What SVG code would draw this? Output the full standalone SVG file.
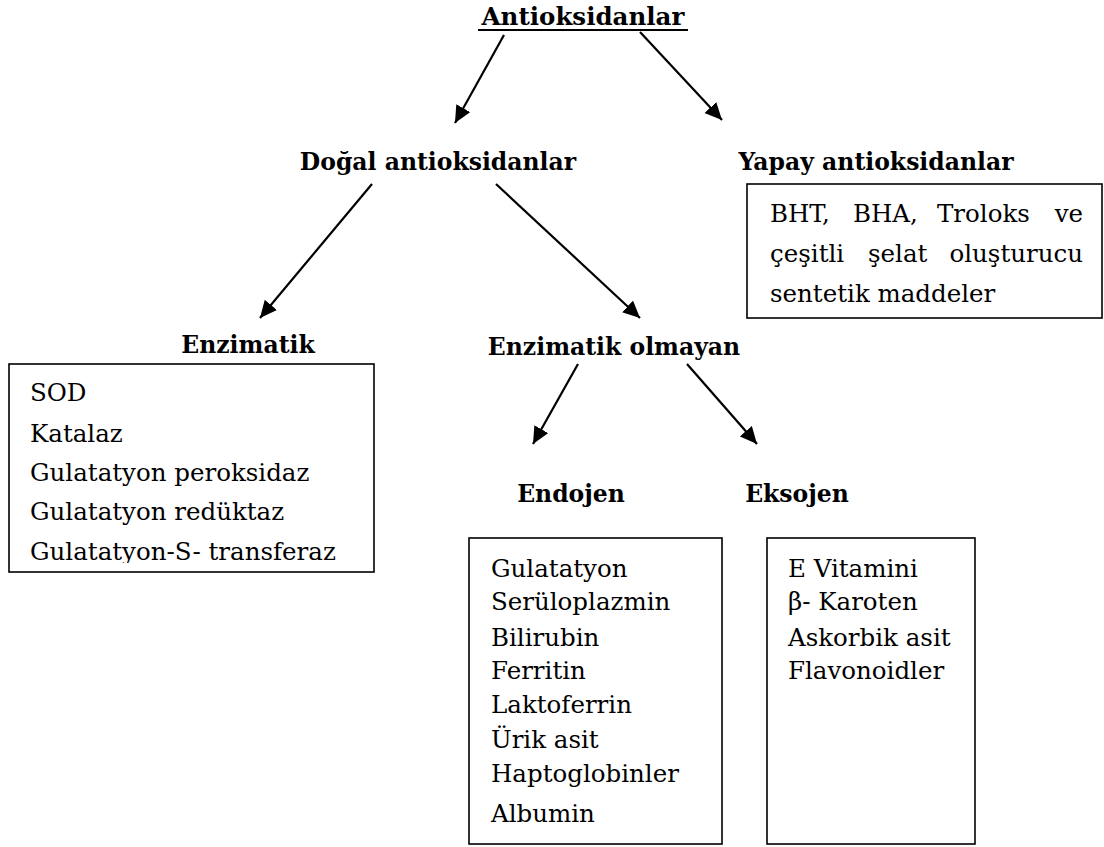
<svg xmlns="http://www.w3.org/2000/svg" width="1104" height="847" viewBox="0 0 1104 847">
<style>
  .h { font-family: "DejaVu Serif", "Liberation Serif", serif; font-weight: bold; font-size: 23.5px; fill: #000; }
  .t { font-family: "DejaVu Serif", "Liberation Serif", serif; font-size: 24.5px; fill: #000; }
  .box { fill: #fff; stroke: #000; stroke-width: 1.6; }
  .arr { stroke: #000; stroke-width: 2.2; fill: none; marker-end: url(#ah); }
</style>
<defs>
  <marker id="ah" markerUnits="userSpaceOnUse" markerWidth="18" markerHeight="16" refX="17" refY="8" orient="auto">
    <path d="M0,0 L17,8 L0,16 z" fill="#000"/>
  </marker>
  <clipPath id="clipEnz">
    <rect x="9" y="364" width="366" height="199"/>
  </clipPath>
</defs>
<rect width="1104" height="847" fill="#fff"/>

<g id="connectors">
  <line class="arr" x1="504" y1="35" x2="455" y2="123"/>
  <line class="arr" x1="640" y1="32" x2="722" y2="120"/>
  <line class="arr" x1="372" y1="184" x2="260" y2="318"/>
  <line class="arr" x1="496" y1="184" x2="640" y2="318"/>
  <line class="arr" x1="578" y1="364" x2="533" y2="444"/>
  <line class="arr" x1="687" y1="364" x2="757" y2="444"/>
</g>

<g id="antioksidanlar">
  <text class="h" x="583" y="25" text-anchor="middle" style="font-size:24.5px">Antioksidanlar</text>
  <line x1="478" y1="30" x2="688" y2="30" stroke="#000" stroke-width="2"/>
</g>

<g id="dogal">
  <text class="h" x="438" y="170" text-anchor="middle">Doğal antioksidanlar</text>
</g>

<g id="yapay">
  <text class="h" x="876" y="170" text-anchor="middle">Yapay antioksidanlar</text>
  <rect class="box" x="747" y="184" width="355" height="134"/>
  <text class="t" y="222"><tspan x="770">BHT,</tspan><tspan x="853">BHA,</tspan><tspan x="937">Troloks</tspan></text>
  <text class="t" x="1083" y="222" text-anchor="end">ve</text>
  <text class="t" y="262"><tspan x="770">çeşitli</tspan><tspan x="868">şelat</tspan></text>
  <text class="t" x="1083" y="262" text-anchor="end">oluşturucu</text>
  <text class="t" x="770" y="302">sentetik maddeler</text>
</g>

<g id="enzimatik">
  <text class="h" x="248" y="353" text-anchor="middle">Enzimatik</text>
  <rect class="box" x="9" y="364" width="365" height="208"/>
  <g clip-path="url(#clipEnz)">
    <text class="t" x="30" y="401">SOD</text>
    <text class="t" x="30" y="442">Katalaz</text>
    <text class="t" x="30" y="481">Gulatatyon peroksidaz</text>
    <text class="t" x="30" y="520">Gulatatyon redüktaz</text>
    <text class="t" x="30" y="560">Gulatatyon-S- transferaz</text>
  </g>
</g>

<g id="enzimatik-olmayan">
  <text class="h" x="614" y="355" text-anchor="middle">Enzimatik olmayan</text>
</g>

<g id="endojen">
  <text class="h" x="571" y="502" text-anchor="middle">Endojen</text>
  <rect class="box" x="469" y="538" width="253" height="306"/>
  <text class="t" x="491" y="577">Gulatatyon</text>
  <text class="t" x="491" y="610">Serüloplazmin</text>
  <text class="t" x="491" y="646">Bilirubin</text>
  <text class="t" x="491" y="679">Ferritin</text>
  <text class="t" x="491" y="713">Laktoferrin</text>
  <text class="t" x="491" y="748">Ürik asit</text>
  <text class="t" x="491" y="782">Haptoglobinler</text>
  <text class="t" x="491" y="822">Albumin</text>
</g>

<g id="eksojen">
  <text class="h" x="797" y="502" text-anchor="middle">Eksojen</text>
  <rect class="box" x="767" y="538" width="208" height="306"/>
  <text class="t" x="788" y="577">E Vitamini</text>
  <text class="t" x="788" y="610">β- Karoten</text>
  <text class="t" x="788" y="646">Askorbik asit</text>
  <text class="t" x="788" y="679">Flavonoidler</text>
</g>
</svg>
